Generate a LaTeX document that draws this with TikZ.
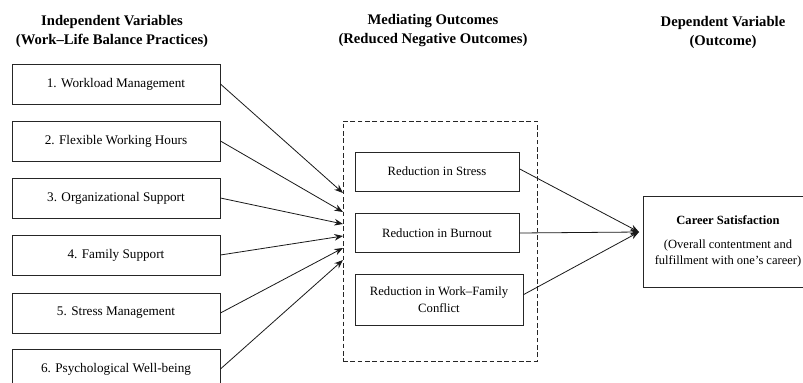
\documentclass[tikz,border=0pt]{standalone}
\usepackage{fontspec}
\setmainfont{Liberation Serif}
\usepackage{tikz}
\usetikzlibrary{shapes,arrows,arrows.meta,positioning,fit,calc}

\tikzset{
  ivbox/.style={draw=black!85,line width=0.65pt,minimum width=156pt,minimum height=30pt,
    font=\fontsize{9.9}{12}\selectfont},
  medbox/.style={draw=black!85,line width=0.65pt,minimum width=123pt,minimum height=29.25pt,
    align=center,font=\fontsize{9.5}{12.75}\selectfont},
  header/.style={align=center,font=\fontsize{11}{14.25}\selectfont\bfseries},
  link/.style={-{Stealth[length=6.5pt,width=5pt]},line width=0.6pt,black!90}
}

\begin{document}
\begin{tikzpicture}[x=0.75pt,y=-0.75pt]
      \useasboundingbox[fill=white] (0,0) rectangle (803,382);
      \clip (0,0) rectangle (803,382);

      % tips of the arrows
      \coordinate (t1) at (343,193);
      \coordinate (t2) at (343,212);
      \coordinate (t3) at (343,224);
      \coordinate (t4) at (343,236);
      \coordinate (t5) at (343,248);
      \coordinate (t6) at (343,260);
      \coordinate (tc) at (639,232);

      \node[header] (hiv) at (112,31) {Independent Variables\\(Work–Life Balance Practices)};
      \node[header] (hmed) at (433,31) {Mediating Outcomes\\(Reduced Negative Outcomes)};
      \node[header] (hdv) at (723,32) {Dependent Variable\\(Outcome)};

      \node[ivbox] (iv1) at (116,84) {1. Workload Management};
      \node[ivbox] (iv2) at (116,141) {2. Flexible Working Hours};
      \node[ivbox] (iv3) at (116,198) {3. Organizational Support};
      \node[ivbox] (iv4) at (116,255) {4. Family Support};
      \node[ivbox] (iv5) at (116,313) {5. Stress Management};
      \node[ivbox] (iv6) at (116,369) {6. Psychological Well-being};

      \node[draw=black!85,line width=0.65pt,dash pattern=on 3.5pt off 2pt,
        minimum width=145.5pt,minimum height=180pt] (med) at (440,241) {};
      \node[medbox] (stress) at (437,171.5) {Reduction in Stress};
      \node[medbox] (burn) at (437,233) {Reduction in Burnout};
      \node[medbox,minimum width=126pt,minimum height=38.25pt] (wfc) at (439,300)
        {Reduction in Work–Family\\Conflict};

      \node[draw=black!85,line width=0.65pt,minimum width=127.5pt,minimum height=68.25pt,
        align=center,font=\fontsize{9.4}{12}\selectfont] (cs) at (728,241.5)
        {\textbf{Career Satisfaction}\\[6pt](Overall contentment and\\fulfillment with one's career)};

      \draw[link] (iv1.east) -- (t1);
      \draw[link] (iv2.east) -- (t2);
      \draw[link] (iv3.east) -- (t3);
      \draw[link] (iv4.east) -- (t4);
      \draw[link] (iv5.east) -- (t5);
      \draw[link] (iv6.east) -- (t6);

      \draw[link] ([yshift=2pt]stress.east) -- (tc);
      \draw[link] (burn.east) -- (tc);
      \draw[link] ([yshift=4pt]wfc.east) -- (tc);
\end{tikzpicture}
\end{document}
